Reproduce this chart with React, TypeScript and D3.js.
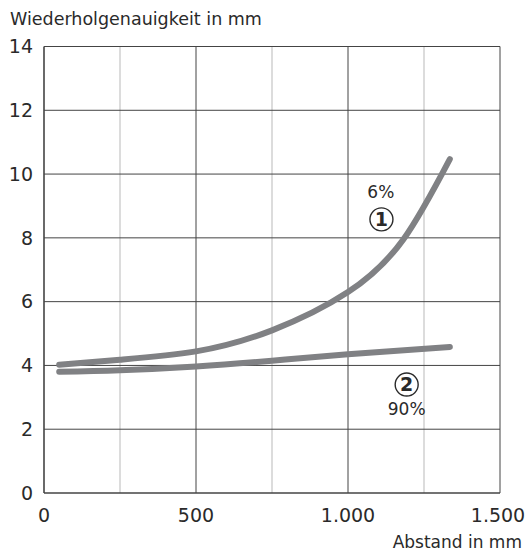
import { useEffect, useRef } from 'react';
import * as d3 from 'd3';

// distance in mm
const curve1X = [50, 250, 500, 750, 1000, 1182, 1335];
// repeatability in mm, 6% remission
const curve1Y = [4.02, 4.18, 4.44, 5.1, 6.3, 7.95, 10.47];

const curve2X = [50, 250, 500, 750, 1000, 1335];
// 90% remission
const curve2Y = [3.8, 3.85, 3.97, 4.15, 4.35, 4.58];

const xMajorTicks = [0, 500, 1000, 1500];
const xMinorTicks = [250, 750, 1250];
const yTicks = [0, 2, 4, 6, 8, 10, 12, 14];

// remission labels and circled curve numbers
const pctLabels = [
  { x: 1108, y: 9.26, text: '6%' },
  { x: 1193, y: 2.46, text: '90%' },
];
const curveNumbers = [
  { x: 1110, y: 8.58, text: '1' },
  { x: 1193, y: 3.4, text: '2' },
];

const W = 531;
const H = 554;
const margin = { top: 46.5, right: 31, bottom: 61, left: 44 };
const font = '"DejaVu Sans", sans-serif';

const Chart = () => {
  const ref = useRef(null);

  useEffect(() => {
    const svg = d3.select(ref.current);
    svg.selectAll('*').remove();

    const x = d3
      .scaleLinear()
      .domain([0, 1500])
      .range([margin.left, W - margin.right]);
    const y = d3
      .scaleLinear()
      .domain([0, 14])
      .range([H - margin.bottom, margin.top]);

    const g = svg.append('g');

    // minor vertical grid
    g.selectAll('.minor')
      .data(xMinorTicks)
      .enter()
      .append('line')
      .attr('x1', (d) => x(d))
      .attr('x2', (d) => x(d))
      .attr('y1', y(0))
      .attr('y2', y(14))
      .attr('stroke', '#b9b9b9')
      .attr('stroke-width', 1);

    // major vertical grid
    g.selectAll('.major')
      .data(xMajorTicks)
      .enter()
      .append('line')
      .attr('x1', (d) => x(d))
      .attr('x2', (d) => x(d))
      .attr('y1', y(0))
      .attr('y2', y(14))
      .attr('stroke', '#444')
      .attr('stroke-width', (d) => (d === 0 ? 1.6 : 1));

    // horizontal grid
    g.selectAll('.hgrid')
      .data(yTicks)
      .enter()
      .append('line')
      .attr('x1', x(0))
      .attr('x2', x(1500))
      .attr('y1', (d) => y(d))
      .attr('y2', (d) => y(d))
      .attr('stroke', '#444')
      .attr('stroke-width', (d) => (d === 0 ? 1.6 : 1));

    // tick labels
    g.selectAll('.ylab')
      .data(yTicks)
      .enter()
      .append('text')
      .attr('x', 33)
      .attr('y', (d) => y(d))
      .attr('dy', '0.36em')
      .attr('text-anchor', 'end')
      .style('font', `19px ${font}`)
      .attr('fill', '#2a2a2a')
      .text((d) => d);

    const fmt = (d: number) => d3.format(',')(d).replace(',', '.');
    g.selectAll('.xlab')
      .data(xMajorTicks)
      .enter()
      .append('text')
      .attr('x', (d) => (d === 1500 ? x(d) - 2 : x(d)))
      .attr('y', 522)
      .attr('text-anchor', 'middle')
      .style('font', `19px ${font}`)
      .attr('fill', '#2a2a2a')
      .text((d) => fmt(d));

    // axis titles
    svg
      .append('text')
      .attr('x', 10)
      .attr('y', 25)
      .style('font', `17.5px ${font}`)
      .attr('fill', '#2a2a2a')
      .text('Wiederholgenauigkeit in mm');

    svg
      .append('text')
      .attr('x', 522)
      .attr('y', 548)
      .attr('text-anchor', 'end')
      .style('font', `17px ${font}`)
      .attr('fill', '#2a2a2a')
      .text('Abstand in mm');

    // curves
    const line = d3
      .line<[number, number]>()
      .x((d) => x(d[0]))
      .y((d) => y(d[1]))
      .curve(d3.curveNatural);

    const series = [
      d3.zip(curve1X, curve1Y) as [number, number][],
      d3.zip(curve2X, curve2Y) as [number, number][],
    ];

    g.selectAll('.curve')
      .data(series)
      .enter()
      .append('path')
      .attr('d', (d) => line(d))
      .attr('fill', 'none')
      .attr('stroke', '#808184')
      .attr('stroke-width', 6)
      .attr('stroke-linecap', 'round');

    // annotations
    g.selectAll('.pct')
      .data(pctLabels)
      .enter()
      .append('text')
      .attr('x', (d) => x(d.x))
      .attr('y', (d) => y(d.y))
      .attr('text-anchor', 'middle')
      .style('font', `17px ${font}`)
      .attr('fill', '#2a2a2a')
      .text((d) => d.text);

    const num = g
      .selectAll('.num')
      .data(curveNumbers)
      .enter()
      .append('g')
      .attr('transform', (d) => `translate(${x(d.x)},${y(d.y)})`);
    num
      .append('circle')
      .attr('r', 11.5)
      .attr('fill', 'none')
      .attr('stroke', '#2a2a2a')
      .attr('stroke-width', 1.4);
    num
      .append('text')
      .attr('text-anchor', 'middle')
      .attr('dy', '0.36em')
      .style('font', `bold 19px ${font}`)
      .attr('fill', '#2a2a2a')
      .text((d) => d.text);
  }, []);

  return (
    <svg
      ref={ref}
      width={W}
      height={H}
      style={{ position: 'absolute', left: 0, top: 0, background: '#fff' }}
    />
  );
};

export default function App() {
  return <Chart />;
}
